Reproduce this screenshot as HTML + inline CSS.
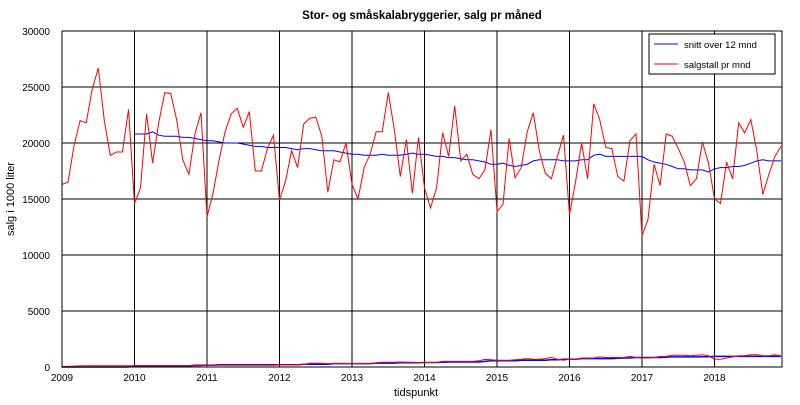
<!DOCTYPE html>
<html><head><meta charset="utf-8"><style>
body{margin:0;background:#fff;width:800px;height:400px;overflow:hidden}
svg{font-family:"Liberation Sans",sans-serif}
</style></head><body>
<svg id="c" width="800" height="400">
<text x="422" y="19" text-anchor="middle" font-size="11.5" font-weight="bold">Stor- og småskalabryggerier, salg pr måned</text>
<g id="grid"></g>
<g id="ticks"></g>
<g id="series"></g>
<rect x="62" y="31" width="720" height="336" fill="none" stroke="#000" stroke-width="1"/>
<text x="416" y="396" text-anchor="middle" font-size="11">tidspunkt</text>
<text transform="translate(14,199) rotate(-90)" text-anchor="middle" font-size="11">salg i 1000 liter</text>
<g>
<rect x="649" y="34" width="126" height="40" fill="#fff" stroke="#000"/>
<line x1="654" y1="44" x2="678" y2="44" stroke="#00f"/>
<text x="684" y="48" font-size="9.5">snitt over 12 mnd</text>
<line x1="654" y1="64" x2="678" y2="64" stroke="#f00"/>
<text x="684" y="68" font-size="9.5">salgstall pr mnd</text>
</g>
</svg>
<script>
const yearLabels=["2009","2010","2011","2012","2013","2014","2015","2016","2017","2018"];
const yTicks=[0,5000,10000,15000,20000,25000,30000];
const salg=[16300,16500,19800,22000,21800,24800,26700,22000,18900,19200,19200,23000,
14600,16000,22600,18200,21800,24500,24400,22000,18500,17200,20800,22700,
13400,15500,18500,21000,22600,23100,21400,22800,17500,17500,19500,20700,
14900,16600,19300,17800,21700,22200,22300,20600,15600,18500,18300,20000,
16300,15000,17800,19000,21000,21000,24500,21200,17000,20300,15500,20500,
16000,14200,16000,20900,18800,23300,18400,19000,17200,16800,17600,21200,
13900,14500,20400,16900,17800,21000,22700,19300,17300,16800,18800,20700,
13600,16500,20000,16800,23500,22100,19600,19500,17000,16600,20200,20800,
11700,13200,18100,16200,20800,20600,19500,18300,16200,16800,20100,18200,
15000,14600,18300,16800,21800,20900,22100,19300,15400,17200,18800,19700];
const snitt=[20800,20800,20800,21000,20700,20600,20600,20600,20500,20500,20400,20300,
20200,20200,20100,20000,20000,20000,19900,19800,19700,19700,19600,19600,
19600,19600,19500,19400,19500,19500,19400,19300,19300,19300,19200,19100,
19000,19000,18900,18900,18900,19000,18900,18900,18900,19000,19100,19000,
19000,18900,18800,18800,18700,18700,18600,18500,18500,18400,18300,18100,
18100,18200,18000,17900,18000,18100,18400,18500,18500,18500,18500,18400,
18400,18400,18500,18500,18900,19000,18800,18800,18800,18800,18800,18800,
18800,18500,18300,18200,18100,17900,17700,17700,17600,17600,17600,17400,
17700,17800,17800,17900,17900,18000,18200,18400,18500,18400,18400,18400];
const smaSalg=[50,50,80,100,120,120,120,120,120,120,120,120,
120,120,120,120,120,120,120,120,120,120,120,120,
150,150,150,150,150,150,150,150,150,150,150,150,
180,180,180,180,230,330,330,330,300,330,300,300,
300,300,300,300,380,430,430,430,450,430,420,400,
400,400,400,500,500,500,500,500,500,550,680,650,
600,600,600,650,700,750,700,700,750,850,700,600,
700,700,800,800,800,900,850,850,850,850,950,850,
800,800,850,950,950,1050,1050,1050,1000,1050,1100,1000,
700,700,800,900,1000,1000,1100,1100,1000,1000,1100,1000];
const smaSnitt=[0,0,0,0,0,0,0,0,0,0,0,0,
100,100,100,100,100,100,100,100,100,100,150,150,
150,150,200,200,200,200,200,200,200,200,200,200,
200,200,200,200,250,250,250,250,250,300,300,300,
300,300,300,300,350,350,350,350,380,380,380,380,
400,400,400,430,450,450,450,450,450,450,500,550,
550,550,550,550,600,600,600,600,600,650,650,700,
700,700,750,750,750,750,750,750,780,800,800,850,
850,850,850,850,880,900,900,900,900,900,920,920,
950,950,950,950,950,950,950,950,950,950,950,950];
const X0=62,YW=72.5,Y0=367,PH=336,YMAX=30000;
const xs=i=>X0+i*YW/12;
const ys=v=>Y0-v*PH/YMAX;
const NS="http://www.w3.org/2000/svg";
function mk(tag,attrs,parent){const e=document.createElementNS(NS,tag);for(const k in attrs)e.setAttribute(k,attrs[k]);parent.appendChild(e);return e;}
const grid=document.getElementById('grid'),ticks=document.getElementById('ticks'),ser=document.getElementById('series');
yearLabels.forEach((l,i)=>{const x=X0+i*YW;
 const g=mk('line',{x1:x,y1:31,x2:x,y2:367,stroke:'#000','stroke-width':1},grid);
 
 
 const t=mk('text',{x:x,y:381,'text-anchor':'middle','font-size':10},ticks);t.textContent=l;
 
 
});
yTicks.forEach(v=>{const y=ys(v);
 const g=mk('line',{x1:62,y1:y,x2:782,y2:y,stroke:'#000','stroke-width':1},grid);
 
 
 const t=mk('text',{x:50,y:y+4,'text-anchor':'end','font-size':10},ticks);t.textContent=v;
 
 
});
function line(arr,off,col,name,w){const p=arr.map((v,i)=>xs(i+off).toFixed(1)+','+ys(v).toFixed(1)).join(' ');
 const e=mk('polyline',{points:p,fill:'none',stroke:col,'stroke-width':w},ser);
 
 }
line(smaSnitt,0,'#00f','small-snitt-line',1.5);
line(smaSalg,0,'#f00','small-salg-line',1);
line(snitt,12,'#00f','snitt-line',1);
line(salg,0,'#f00','salg-line',1);
</script>
</body></html>
